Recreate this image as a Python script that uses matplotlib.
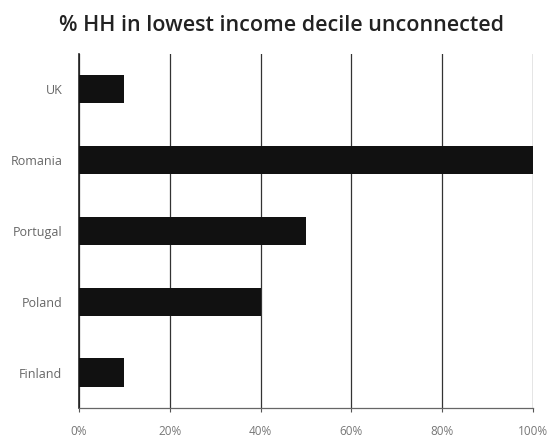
import matplotlib.pyplot as plt
from matplotlib.ticker import PercentFormatter

# Share of households in the lowest income decile without a connection
countries = ['Finland', 'Poland', 'Portugal', 'Romania', 'UK']
unconnected = [10, 40, 50, 100, 10]
ticks = [0, 20, 40, 60, 80, 100]

plt.rcParams['font.family'] = ['Open Sans', 'DejaVu Sans']

fig = plt.figure(figsize=(5.51, 4.38), dpi=100)
ax = fig.add_axes([0.1434, 0.0685, 0.8236, 0.8085])

ax.barh(countries, unconnected, height=0.4, color='#111111', zorder=3)

ax.set_xlim(0, 100)
ax.set_ylim(-0.5, len(countries) - 0.5)
ax.set_xticks(ticks)
ax.xaxis.set_major_formatter(PercentFormatter(decimals=0))
ax.grid(axis='x', color='#333333', linewidth=0.9, zorder=0)

for side in ['top', 'right']:
    ax.spines[side].set_visible(False)
ax.spines['left'].set_color('#222222')
ax.spines['left'].set_linewidth(1.2)
ax.spines['bottom'].set_color('#666666')
ax.spines['bottom'].set_linewidth(0.9)

ax.tick_params(axis='x', length=3, color='#555555', labelcolor='#777777',
               labelsize=8.5, pad=9)
ax.tick_params(axis='y', length=0, labelcolor='#666666', labelsize=9, pad=12)

fig.suptitle('% HH in lowest income decile unconnected', x=0.51, y=0.965,
             fontsize=15.5, fontweight='semibold', color='#222222')

fig.savefig('out.png', dpi=100)
